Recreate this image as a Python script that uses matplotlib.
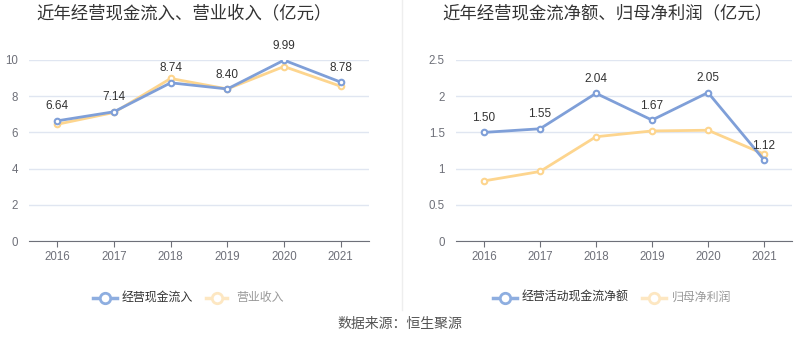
import matplotlib.pyplot as plt
from matplotlib.lines import Line2D

plt.rcParams['font.family'] = ['Liberation Sans', 'Noto Sans CJK SC', 'DejaVu Sans']

years = ['2016', '2017', '2018', '2019', '2020', '2021']
cash_inflow = [6.64, 7.14, 8.74, 8.40, 9.99, 8.78]
revenue = [6.45, 7.10, 8.98, 8.40, 9.64, 8.55]
net_cash = [1.50, 1.55, 2.04, 1.67, 2.05, 1.12]
net_profit = [0.83, 0.96, 1.44, 1.52, 1.53, 1.20]

blue = '#7f9fd8'
orange = '#fdd58e'
grid_c = '#e0e6f1'
axis_c = '#6e7079'

fig = plt.figure(figsize=(8, 3.58), dpi=100)

def draw(ax, a, b, ymax, step, yticklabels):
    x = list(range(len(years)))
    ax.plot(x, b, color=orange, lw=2, marker='o', ms=4, mfc='white',
            mec=orange, mew=1.5, zorder=3)
    ax.plot(x, a, color=blue, lw=2, marker='o', ms=4, mfc='white',
            mec=blue, mew=1.5, zorder=4)
    for xi, v in zip(x, a):
        ax.annotate(f'{v:.2f}', (xi, v), xytext=(0, 6), textcoords='offset points',
                    ha='center', va='bottom', fontsize=8.5, color='#333333', zorder=5)
    ax.set_xlim(-0.5, len(years) - 0.5)
    ax.set_ylim(0, ymax)
    ticks = [i * step for i in range(len(yticklabels))]
    ax.set_yticks(ticks)
    ax.set_yticklabels(yticklabels)
    ax.set_xticks(x)
    ax.set_xticklabels(years)
    ax.grid(axis='y', color=grid_c, lw=1)
    ax.set_axisbelow(True)
    for s in ['top', 'right', 'left']:
        ax.spines[s].set_visible(False)
    ax.spines['bottom'].set_color(axis_c)
    ax.tick_params(axis='x', colors=axis_c, labelcolor='#6e7079', length=4,
                   labelsize=8.3, pad=3)
    ax.tick_params(axis='y', length=0, labelcolor='#6e7079', labelsize=8.3, pad=8)

ax1 = fig.add_axes([29 / 800, 1 - 241 / 358, 340 / 800, 181 / 358])
draw(ax1, cash_inflow, revenue, 10, 2, ['0', '2', '4', '6', '8', '10'])
ax2 = fig.add_axes([456 / 800, 1 - 241 / 358, 336 / 800, 181 / 358])
draw(ax2, net_cash, net_profit, 2.5, 0.5, ['0', '0.5', '1', '1.5', '2', '2.5'])

# titles
fig.text(184 / 800, 1 - 13 / 358, '近年经营现金流入、营业收入（亿元）', ha='center', va='center',
         fontsize=12.5, color='#333333')
fig.text(607 / 800, 1 - 13 / 358, '近年经营现金流净额、归母净利润（亿元）', ha='center', va='center',
         fontsize=12.5, color='#333333')

# divider
fig.add_artist(Line2D([402 / 800, 402 / 800], [1 - 310 / 358, 1.0],
                      color='#eeeeee', lw=1))

# legends
def legend_item(x0, x1, tx, label, color, tcolor):
    y = 1 - 298 / 358
    fig.add_artist(Line2D([x0 / 800, x1 / 800], [y, y], color=color, lw=2.5))
    fig.add_artist(Line2D([(x0 + x1) / 1600], [y], marker='o', ms=7.5, mfc='white',
                          mec=color, mew=2, lw=0))
    fig.text(tx / 800, y, label, ha='left', va='center', fontsize=8.6, color=tcolor)

legend_item(93, 117, 122, '经营现金流入', '#8eaee0', '#333333')
legend_item(206, 227, 236, '营业收入', '#fde7c2', '#999999')
legend_item(493, 517, 522, '经营活动现金流净额', '#8eaee0', '#333333')
legend_item(642, 666, 672, '归母净利润', '#fde7c2', '#999999')

fig.text(400 / 800, 1 - 324 / 358, '数据来源：恒生聚源', ha='center', va='center',
         fontsize=10, color='#555555')

fig.savefig('out.png', dpi=100)
